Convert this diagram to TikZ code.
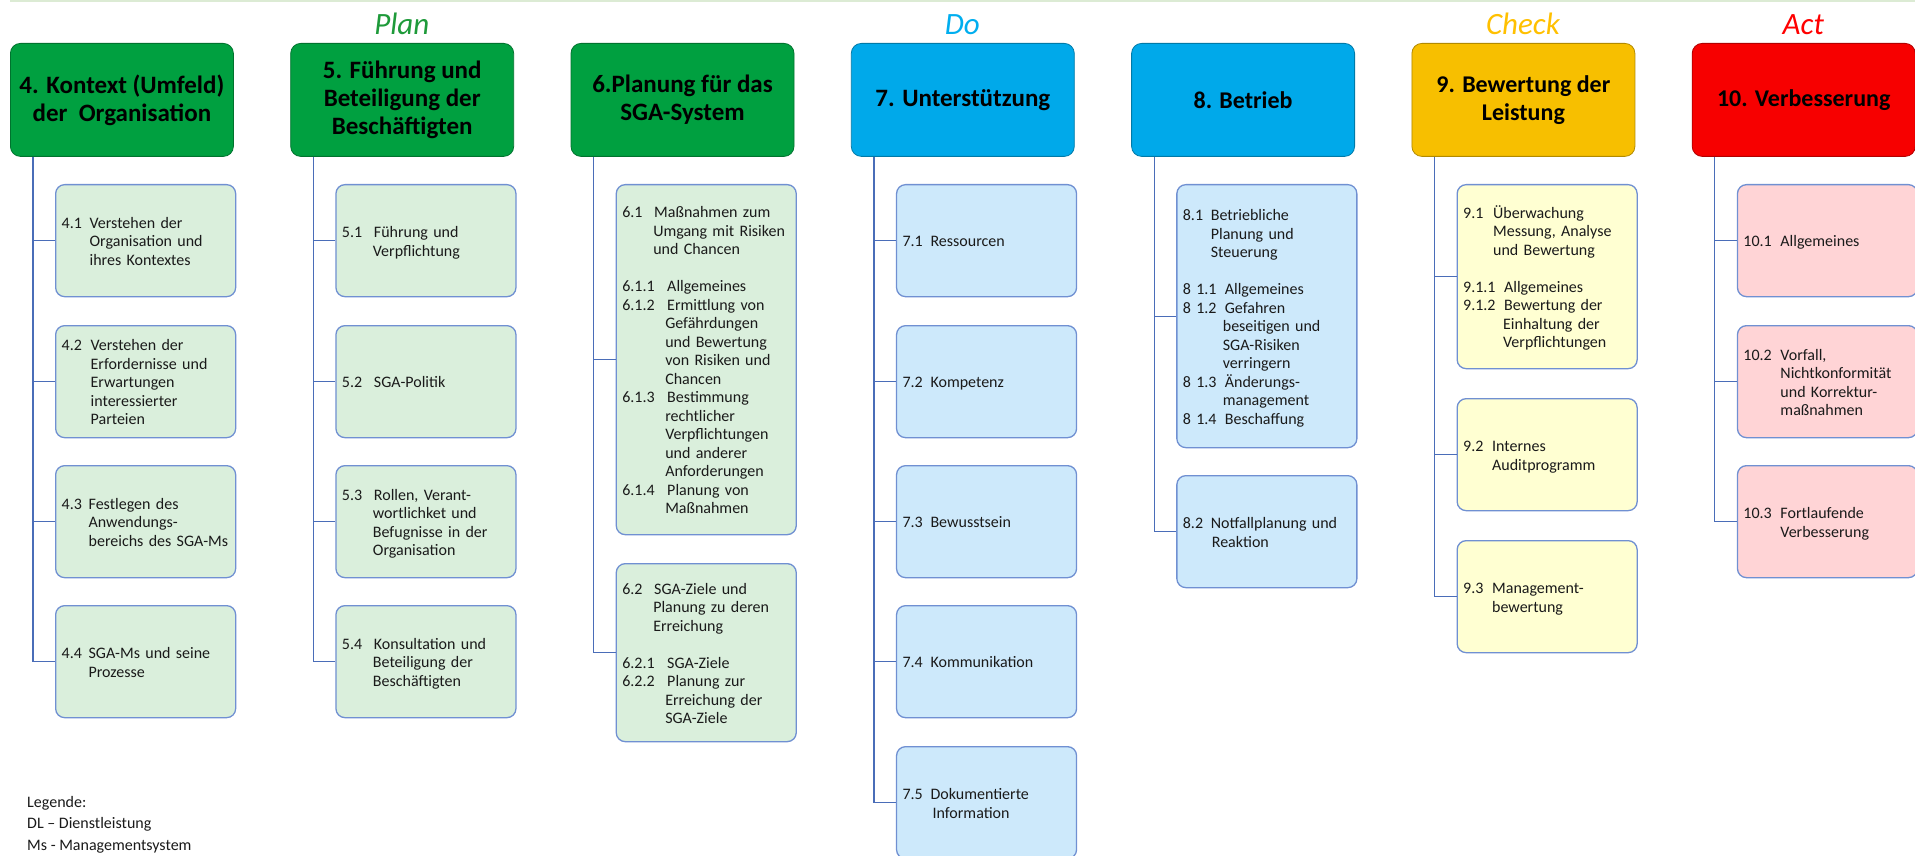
\documentclass[tikz,border=0pt]{standalone}
\usepackage{fontspec}
\setmainfont{Carlito}
\definecolor{hgreen}{HTML}{00A040}
\definecolor{hblue}{HTML}{00A9EA}
\definecolor{hgold}{HTML}{F7BF00}
\definecolor{hred}{HTML}{F70000}
\definecolor{sgreen}{HTML}{DAEFDC}
\definecolor{sblue}{HTML}{CDE9FB}
\definecolor{syellow}{HTML}{FFFFD2}
\definecolor{spink}{HTML}{FFD4D6}
\definecolor{subbd}{HTML}{7090D2}
\definecolor{connc}{HTML}{4A6DB8}
\definecolor{lplan}{HTML}{1E9A3A}
\definecolor{ldo}{HTML}{00AEEF}
\definecolor{lcheck}{HTML}{FFC000}
\definecolor{lact}{HTML}{FF0000}
\definecolor{topline}{HTML}{DCEBD4}
\definecolor{subtext}{HTML}{1A1A1A}
\newcommand{\nm}[2]{\makebox[#1][l]{#2}}
\newcommand{\ind}[1]{\hspace*{#1}}
\newcommand{\tb}[1]{\noindent\raisebox{-2.5pt}[\height][\depth]{\begin{tabular}{@{}l@{}}#1\end{tabular}}}
\begin{document}
\begin{tikzpicture}[x=1pt,y=-1pt,
  head/.style={draw=#1!72!black, fill=#1, line width=0.8pt, rounded corners=10pt,
    anchor=north west, minimum width=223pt, minimum height=113pt, align=center,
    inner sep=2pt, font=\fontsize{25}{28}\selectfont\bfseries},
  headn/.style={head=#1, font=\fontsize{24}{28}\selectfont\bfseries},
  sub/.style={draw=subbd, fill=#1, line width=1.3pt, rounded corners=9pt,
    anchor=north west, minimum width=180pt, text width=168pt, inner xsep=6pt,
    inner ysep=0pt, align=left, text=subtext, font=\fontsize{16}{18.5}\selectfont},
  conn/.style={draw=connc, line width=1.3pt},
  pdca/.style={anchor=base, font=\fontsize{31}{34}\selectfont\itshape},
  legend/.style={anchor=north west, align=left, inner sep=0pt, text=subtext,
    font=\fontsize{16}{21.5}\selectfont}
]
\useasboundingbox (0,0) rectangle (1915,856);
\fill[white] (0,0) rectangle (1915,856);
\draw[topline, line width=1.5pt] (10,1) -- (1915,1);

% PDCA labels
\node[pdca, text=lplan]  (lp) at (401.8,35) {Plan};
\node[pdca, text=ldo]    (ld) at (962.4,35) {Do};
\node[pdca, text=lcheck] (lc) at (1523,35) {Check};
\node[pdca, text=lact]   (la) at (1803.3,35) {Act};

% Headers
\node[head=hgreen] (h4) at (10,43) {4. Kontext (Umfeld)\\der\ \ Organisation};
\node[head=hgreen] (h5) at (290.3,43) {5. Führung und\\Beteiligung der\\Beschäftigten};
\node[head=hgreen] (h6) at (570.6,43) {6.Planung für das\\SGA-System};
\node[head=hblue]  (h7) at (850.9,43) {7. Unterstützung};
\node[headn=hblue]  (h8) at (1131.2,43) {8. Betrieb};
\node[headn=hgold]  (h9) at (1411.5,43) {9. Bewertung der\\Leistung};
\node[headn=hred]   (h10) at (1691.8,43) {10. Verbesserung};

% Column 4
\node[sub=sgreen, minimum height=112pt] (s41) at (55,184)
  {\tb{\nm{28pt}{4.1}Verstehen der\\\ind{28pt}Organisation und\\\ind{28pt}ihres Kontextes}};
\node[sub=sgreen, minimum height=112pt] (s42) at (55,325)
  {\tb{\nm{29pt}{4.2}Verstehen der\\\ind{29pt}Erfordernisse und\\\ind{29pt}Erwartungen\\\ind{29pt}interessierter\\\ind{29pt}Parteien}};
\node[sub=sgreen, minimum height=112pt] (s43) at (55,465)
  {\tb{\nm{27pt}{4.3}Festlegen des\\\ind{27pt}Anwendungs-\\\ind{27pt}bereichs des SGA-Ms}};
\node[sub=sgreen, minimum height=112pt] (s44) at (55,605)
  {\tb{\nm{27pt}{4.4}SGA-Ms und seine\\\ind{27pt}Prozesse}};

% Column 5
\node[sub=sgreen, minimum height=112pt] (s51) at (335.3,184)
  {\tb{\nm{32pt}{5.1}Führung und\\\ind{31pt}Verpflichtung}};
\node[sub=sgreen, minimum height=112pt] (s52) at (335.3,325)
  {\tb{\nm{32pt}{5.2}SGA-Politik}};
\node[sub=sgreen, minimum height=112pt] (s53) at (335.3,465)
  {\tb{\nm{32pt}{5.3}Rollen, Verant-\\\ind{31pt}wortlichket und\\\ind{31pt}Befugnisse in der\\\ind{31pt}Organisation}};
\node[sub=sgreen, minimum height=112pt] (s54) at (335.3,605)
  {\tb{\nm{32pt}{5.4}Konsultation und\\\ind{31pt}Beteiligung der\\\ind{31pt}Beschäftigten}};

% Column 6
\node[sub=sgreen, minimum height=350pt] (s61) at (615.6,184)
  {\tb{\nm{32pt}{6.1}Maßnahmen zum\\\ind{31pt}Umgang mit Risiken\\\ind{31pt}und Chancen\\[18.5pt]
   \nm{45pt}{6.1.1}Allgemeines\\
   \nm{45pt}{6.1.2}Ermittlung von\\\ind{43pt}Gefährdungen\\\ind{43pt}und Bewertung\\\ind{43pt}von Risiken und\\\ind{43pt}Chancen\\
   \nm{45pt}{6.1.3}Bestimmung\\\ind{43pt}rechtlicher\\\ind{43pt}Verpflichtungen\\\ind{43pt}und anderer\\\ind{43pt}Anforderungen\\
   \nm{45pt}{6.1.4}Planung von\\\ind{43pt}Maßnahmen}};
\node[sub=sgreen, minimum height=178pt] (s62) at (615.6,563)
  {\tb{\nm{32pt}{6.2}SGA-Ziele und\\\ind{31pt}Planung zu deren\\\ind{31pt}Erreichung\\[18.5pt]
   \nm{45pt}{6.2.1}SGA-Ziele\\
   \nm{45pt}{6.2.2}Planung zur\\\ind{43pt}Erreichung der\\\ind{43pt}SGA-Ziele}};

% Column 7
\node[sub=sblue, minimum height=112pt] (s71) at (895.9,184)
  {\tb{\nm{28pt}{7.1}Ressourcen}};
\node[sub=sblue, minimum height=112pt] (s72) at (895.9,325)
  {\tb{\nm{28pt}{7.2}Kompetenz}};
\node[sub=sblue, minimum height=112pt] (s73) at (895.9,465)
  {\tb{\nm{28pt}{7.3}Bewusstsein}};
\node[sub=sblue, minimum height=112pt] (s74) at (895.9,605)
  {\tb{\nm{28pt}{7.4}Kommunikation}};
\node[sub=sblue, minimum height=112pt] (s75) at (895.9,746)
  {\tb{\nm{28pt}{7.5}Dokumentierte\\\ind{30pt}Information}};

% Column 8
\node[sub=sblue, minimum height=263pt] (s81) at (1176.2,184)
  {\tb{\nm{28pt}{8.1}Betriebliche\\\ind{28pt}Planung und\\\ind{28pt}Steuerung\\[18.5pt]
   \nm{42pt}{8 1.1}Allgemeines\\
   \nm{42pt}{8 1.2}Gefahren\\\ind{40pt}beseitigen und\\\ind{40pt}SGA-Risiken\\\ind{40pt}verringern\\
   \nm{42pt}{8 1.3}Änderungs-\\\ind{40pt}management\\
   \nm{42pt}{8 1.4}Beschaffung}};
\node[sub=sblue, minimum height=112pt] (s82) at (1176.2,475)
  {\tb{\nm{28pt}{8.2}Notfallplanung und\\\ind{29pt}Reaktion}};

% Column 9
\node[sub=syellow, minimum height=184pt] (s91) at (1456.5,184)
  {\tb{\nm{30pt}{9.1}Überwachung\\\ind{30pt}Messung, Analyse\\\ind{30pt}und Bewertung\\[18.5pt]
   \nm{41pt}{9.1.1}Allgemeines\\
   \nm{41pt}{9.1.2}Bewertung der\\\ind{40pt}Einhaltung der\\\ind{40pt}Verpflichtungen}};
\node[sub=syellow, minimum height=112pt] (s92) at (1456.5,398)
  {\tb{\nm{29pt}{9.2}Internes\\\ind{29pt}Auditprogramm}};
\node[sub=syellow, minimum height=112pt] (s93) at (1456.5,540)
  {\tb{\nm{29pt}{9.3}Management-\\\ind{29pt}bewertung}};

% Column 10
\node[sub=spink, minimum height=112pt] (s101) at (1736.8,184)
  {\tb{\nm{37pt}{10.1}Allgemeines}};
\node[sub=spink, minimum height=112pt] (s102) at (1736.8,325)
  {\tb{\nm{37pt}{10.2}Vorfall,\\\ind{37pt}Nichtkonformität\\\ind{37pt}und Korrektur-\\\ind{37pt}maßnahmen}};
\node[sub=spink, minimum height=112pt] (s103) at (1736.8,465)
  {\tb{\nm{37pt}{10.3}Fortlaufende\\\ind{37pt}Verbesserung}};

% Connectors
\foreach \h/\s in {h4/s41,h4/s42,h4/s43,h4/s44,
                   h5/s51,h5/s52,h5/s53,h5/s54,
                   h6/s61,h6/s62,
                   h7/s71,h7/s72,h7/s73,h7/s74,h7/s75,
                   h8/s81,h8/s82,
                   h9/s91,h9/s92,h9/s93,
                   h10/s101,h10/s102,h10/s103}
  \draw[conn] (\h.south west) ++(23,0) |- (\s.west);

% Legend
\node[legend] (leg) at (27,796) {Legende:\\DL – Dienstleistung\\Ms - Managementsystem};
\end{tikzpicture}
\end{document}
